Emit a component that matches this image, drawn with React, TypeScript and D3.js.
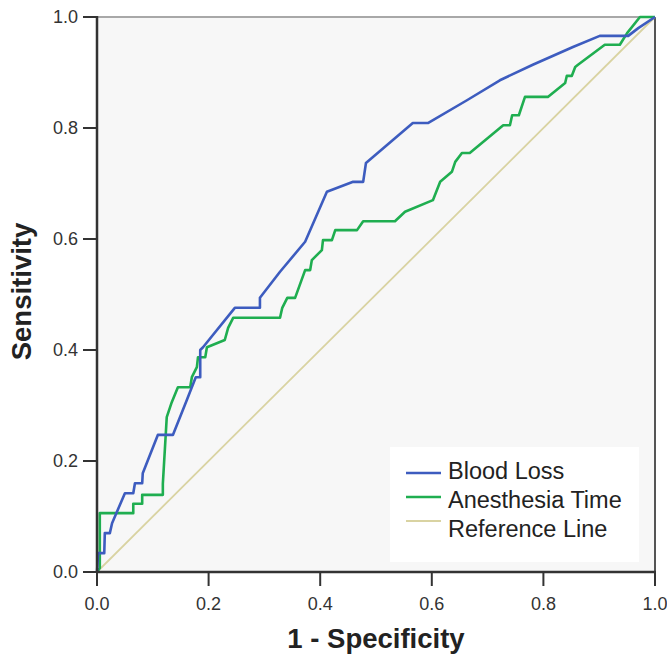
import React from "react";
import * as d3 from "d3";

const ticks = [0, 0.2, 0.4, 0.6, 0.8, 1.0];
const tickLabels = ["0.0", "0.2", "0.4", "0.6", "0.8", "1.0"];

const bloodLossFpr = [0, 0.002, 0.013, 0.014, 0.023, 0.027, 0.05, 0.065, 0.068, 0.081, 0.082, 0.109, 0.136, 0.161, 0.177, 0.185, 0.185, 0.19, 0.247, 0.292, 0.292, 0.328, 0.373, 0.412, 0.459, 0.477, 0.482, 0.566, 0.593, 0.663, 0.722, 0.781, 0.853, 0.901, 0.952, 0.97, 1];
const bloodLossTpr = [0, 0.034, 0.034, 0.07, 0.07, 0.088, 0.142, 0.142, 0.16, 0.16, 0.178, 0.247, 0.247, 0.31, 0.351, 0.351, 0.4, 0.405, 0.476, 0.476, 0.494, 0.541, 0.595, 0.685, 0.703, 0.703, 0.737, 0.809, 0.809, 0.85, 0.886, 0.914, 0.946, 0.966, 0.966, 0.98, 1];

const anesthesiaFpr = [0, 0.005, 0.005, 0.065, 0.065, 0.081, 0.081, 0.118, 0.118, 0.125, 0.131, 0.134, 0.145, 0.167, 0.17, 0.179, 0.181, 0.194, 0.197, 0.229, 0.235, 0.244, 0.328, 0.332, 0.341, 0.355, 0.373, 0.382, 0.385, 0.403, 0.405, 0.421, 0.427, 0.466, 0.477, 0.534, 0.552, 0.602, 0.615, 0.636, 0.642, 0.654, 0.668, 0.728, 0.74, 0.744, 0.756, 0.767, 0.808, 0.839, 0.842, 0.851, 0.857, 0.862, 0.91, 0.937, 0.95, 0.973, 1];
const anesthesiaTpr = [0, 0.007, 0.106, 0.106, 0.123, 0.123, 0.139, 0.139, 0.159, 0.279, 0.297, 0.306, 0.333, 0.333, 0.351, 0.369, 0.387, 0.387, 0.405, 0.418, 0.44, 0.458, 0.458, 0.476, 0.494, 0.494, 0.544, 0.544, 0.562, 0.58, 0.598, 0.598, 0.616, 0.616, 0.632, 0.632, 0.649, 0.67, 0.703, 0.721, 0.739, 0.755, 0.755, 0.805, 0.805, 0.823, 0.823, 0.856, 0.856, 0.881, 0.894, 0.894, 0.91, 0.914, 0.95, 0.95, 0.971, 1, 1];

const referenceX = [0, 1];
const referenceY = [0, 1];

const seriesNames = ["Blood Loss", "Anesthesia Time", "Reference Line"];
const seriesColors = ["#3d5cbf", "#1fae50", "#d9d3a2"];

const FONT = "'Liberation Sans', Arial, sans-serif";

export default function App() {
  const width = 667;
  const height = 656;
  const x = d3.scaleLinear().domain([0, 1]).range([97, 655]);
  const y = d3.scaleLinear().domain([0, 1]).range([572, 17]);
  const line = d3
    .line<[number, number]>()
    .x((d) => x(d[0]))
    .y((d) => y(d[1]));

  const blue = bloodLossFpr.map((v, i) => [v, bloodLossTpr[i]] as [number, number]);
  const green = anesthesiaFpr.map((v, i) => [v, anesthesiaTpr[i]] as [number, number]);
  const ref = referenceX.map((v, i) => [v, referenceY[i]] as [number, number]);

  const legendLineY = [473, 497, 521];
  const legendTextY = [479, 508, 537];

  return (
    <svg
      width={width}
      height={height}
      style={{ position: "absolute", left: 0, top: 0, display: "block" }}
    >
      <rect x={0} y={0} width={width} height={height} fill="#ffffff" />
      <rect x={x(0)} y={y(1)} width={x(1) - x(0)} height={y(0) - y(1)} fill="#f7f7f7" />
      {/* frame */}
      <line x1={x(0)} x2={x(1)} y1={y(1)} y2={y(1)} stroke="#a8a8a8" strokeWidth={2} />
      <line x1={x(1)} x2={x(1)} y1={y(1)} y2={y(0)} stroke="#555" strokeWidth={2} />
      {/* reference */}
      <path d={line(ref) || ""} fill="none" stroke={seriesColors[2]} strokeWidth={1.8} />
      <path d={line(green) || ""} fill="none" stroke={seriesColors[1]} strokeWidth={2.6} strokeLinejoin="round" />
      <path d={line(blue) || ""} fill="none" stroke={seriesColors[0]} strokeWidth={2.6} strokeLinejoin="round" />
      {/* axes */}
      <line x1={x(0)} x2={x(0)} y1={y(1) - 1} y2={y(0) + 1} stroke="#333" strokeWidth={2.5} />
      <line x1={x(0) - 1} x2={x(1) + 1} y1={y(0)} y2={y(0)} stroke="#333" strokeWidth={2.5} />
      {ticks.map((t, i) => (
        <g key={"y" + i}>
          <line x1={x(0) - 14} x2={x(0)} y1={y(t)} y2={y(t)} stroke="#333" strokeWidth={2} />
          <text
            x={x(0) - 19}
            y={y(t)}
            dy="0.36em"
            textAnchor="end"
            fontFamily={FONT}
            fontSize={18}
            fill="#333"
          >
            {tickLabels[i]}
          </text>
        </g>
      ))}
      {ticks.map((t, i) => (
        <g key={"x" + i}>
          <line x1={x(t)} x2={x(t)} y1={y(0)} y2={y(0) + 14} stroke="#333" strokeWidth={2} />
          <text
            x={x(t)}
            y={610}
            textAnchor="middle"
            fontFamily={FONT}
            fontSize={18}
            fill="#333"
          >
            {tickLabels[i]}
          </text>
        </g>
      ))}
      {/* axis titles */}
      <text
        x={376}
        y={648}
        textAnchor="middle"
        fontFamily={FONT}
        fontWeight="bold"
        fontSize={27.5}
        fill="#222"
      >
        1 - Specificity
      </text>
      <text
        transform={`translate(31, 291.5) rotate(-90)`}
        textAnchor="middle"
        fontFamily={FONT}
        fontWeight="bold"
        fontSize={27.5}
        fill="#222"
      >
        Sensitivity
      </text>
      {/* legend */}
      <rect x={390} y={447} width={249} height={115} fill="#ffffff" />
      {seriesNames.map((name, i) => (
        <g key={name}>
          <line
            x1={406}
            x2={441}
            y1={legendLineY[i]}
            y2={legendLineY[i]}
            stroke={seriesColors[i]}
            strokeWidth={i === 2 ? 1.8 : 2.6}
          />
          <text x={448} y={legendTextY[i]} fontFamily={FONT} fontSize={23.5} fill="#222">
            {name}
          </text>
        </g>
      ))}
    </svg>
  );
}
